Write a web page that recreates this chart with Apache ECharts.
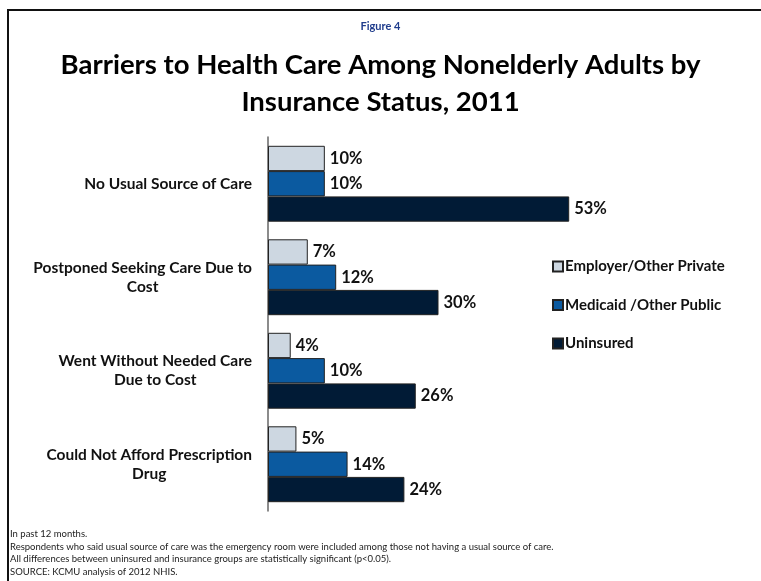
<!DOCTYPE html>
<html>
<head>
<meta charset="utf-8">
<script src="https://cdn.jsdelivr.net/npm/echarts@6/dist/echarts.min.js"></script>
<style>
	html, body {
		margin: 0;
		padding: 0;
		background: #fff;
		overflow: hidden;
	}
	#chart {
		width: 761px;
		height: 581px;
		position: relative;
	}
	#frame {
		position: absolute;
		left: 7px;
		top: 9px;
		right: 0;
		bottom: 0;
		border-left: 2px solid #111;
		border-top: 2px solid #111;
		pointer-events: none;
	}
</style>
</head>
<body>
<div id="chart"></div>
<div id="frame"></div>
<script>
var categories = [
	"No Usual Source of Care",
	"Postponed Seeking Care Due to\nCost",
	"Went Without Needed Care\nDue to Cost",
	"Could Not Afford Prescription\nDrug"
];
var seriesNames = ["Employer/Other Private", "Medicaid /Other Public", "Uninsured"];
var privateValues = [10, 7, 4, 5];
var publicValues = [10, 12, 10, 14];
var uninsuredValues = [53, 30, 26, 24];
var colors = ["#cdd7e1", "#0b5aa0", "#011b36"];

var notes = [
	"In past 12 months.",
	"Respondents who said usual source of care was the emergency room were included among those not having a usual source of care.",
	"All differences between uninsured and insurance groups are statistically significant (p<0.05).",
	"SOURCE: KCMU analysis of 2012 NHIS."
];

var font = "Lato, 'Open Sans', sans-serif";

var chart = echarts.init(document.getElementById("chart"));

function makeSeries(name, values, color) {
	return {
		name: name,
		type: "bar",
		data: values,
		barWidth: 25.3,
		barGap: "0%",
		animation: false,
		itemStyle: {
			color: color,
			borderColor: "#222",
			borderWidth: 1
		},
		label: {
			show: true,
			position: "right",
			distance: 5,
			formatter: "{c}%",
			color: "#111",
			fontFamily: font,
			fontWeight: "bold",
			fontSize: 16.5
		}
	};
}

var option = {
	backgroundColor: "#fff",
	title: [
		{
			text: "Figure 4",
			left: "center",
			top: 16,
			textStyle: {
				fontFamily: font,
				fontSize: 11,
				fontWeight: "bold",
				color: "#1f3c8c"
			}
		},
		{
			text: "Barriers to Health Care Among Nonelderly Adults by\nInsurance Status, 2011",
			left: "center",
			top: 42,
			textStyle: {
				fontFamily: font,
				fontSize: 27.5,
				fontWeight: "bold",
				color: "#000",
				lineHeight: 37
			}
		}
	],
	legend: {
		orient: "vertical",
		left: 547,
		top: 254,
		itemWidth: 10,
		itemHeight: 10,
		itemGap: 23.5,
		icon: "rect",
		data: seriesNames,
		textStyle: {
			fontFamily: font,
			fontSize: 15,
			fontWeight: "bold",
			color: "#111",
			padding: [0, 0, 0, -3]
		}
	},
	grid: {
		left: 268,
		top: 137,
		width: 341,
		height: 374,
		containLabel: false
	},
	xAxis: {
		type: "value",
		min: 0,
		max: 60,
		show: false
	},
	yAxis: {
		type: "category",
		inverse: true,
		data: categories,
		axisLine: {
			show: true,
			lineStyle: {
				color: "#666",
				width: 1.5
			}
		},
		axisTick: {
			show: false
		},
		axisLabel: {
			margin: 16,
			formatter: function (value) {
				return value.split("\n").map(function (line) {
					return "{c|" + line + "}";
				}).join("\n");
			},
			rich: {
				c: {
					align: "center",
					fontFamily: font,
					fontSize: 15.5,
					fontWeight: "bold",
					color: "#111",
					lineHeight: 19
				}
			}
		}
	},
	graphic: [
		{
			type: "text",
			left: 10,
			top: 528,
			style: {
				text: notes.join("\n"),
				font: "9.5px " + font,
				fill: "#222",
				lineHeight: 12.5
			}
		}
	],
	series: [
		makeSeries(seriesNames[0], privateValues, colors[0]),
		makeSeries(seriesNames[1], publicValues, colors[1]),
		makeSeries(seriesNames[2], uninsuredValues, colors[2])
	]
};

chart.setOption(option);
</script>
</body>
</html>
